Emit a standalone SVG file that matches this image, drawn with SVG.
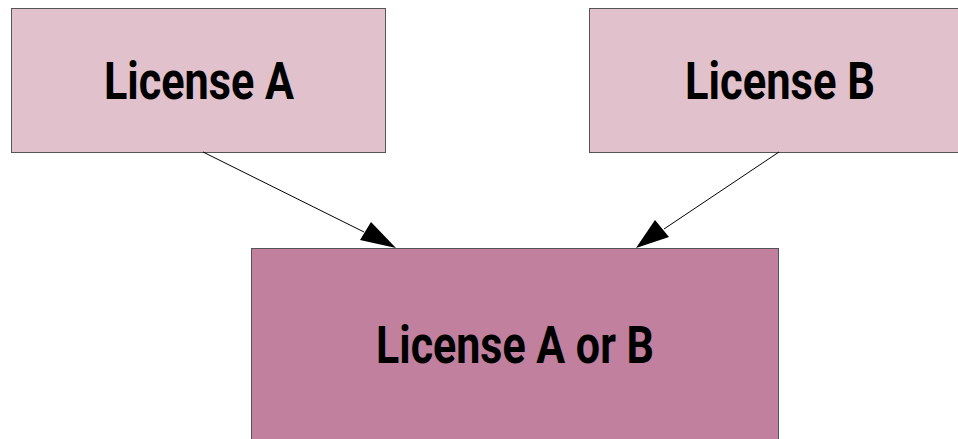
<svg xmlns="http://www.w3.org/2000/svg" width="958" height="439" viewBox="0 0 958 439">
<style>
.box{stroke:#555;stroke-width:1}
.light{fill:#e0c1cc}
.dark{fill:#c0809e}
.lbl{font-family:Roboto,"Liberation Sans",sans-serif;font-weight:bold;font-size:51px;fill:#000}
.edge{stroke:#000;stroke-width:1;fill:none}
</style>
<defs>
<marker id="arr" viewBox="0 0 10 10" refX="10" refY="5" markerWidth="10" markerHeight="10" markerUnits="userSpaceOnUse" orient="auto">
<path d="M0,0 L10,5 L0,10 z" fill="#000"/>
</marker>
</defs>
<g id="nodeA">
<rect class="box light" x="11.5" y="8.5" width="374" height="144"/>
<text class="lbl" x="104" y="99" textLength="190" lengthAdjust="spacingAndGlyphs">License A</text>
</g>
<g id="nodeB">
<rect class="box light" x="589.5" y="8.5" width="380" height="144"/>
<text class="lbl" x="685" y="99" textLength="190" lengthAdjust="spacingAndGlyphs">License B</text>
</g>
<g id="nodeAB">
<rect class="box dark" x="251.5" y="248.5" width="527" height="200"/>
<text class="lbl" x="376" y="363" textLength="278" lengthAdjust="spacingAndGlyphs">License A or B</text>
</g>
<g id="connectors">
<path class="edge" d="M203,152 L364,232"/>
<polygon points="396,248 360,240 371,222" fill="#000"/>
<path class="edge" d="M779,152 L664,229"/>
<polygon points="636,248 655,220 669,237" fill="#000"/>
</g>
</svg>
